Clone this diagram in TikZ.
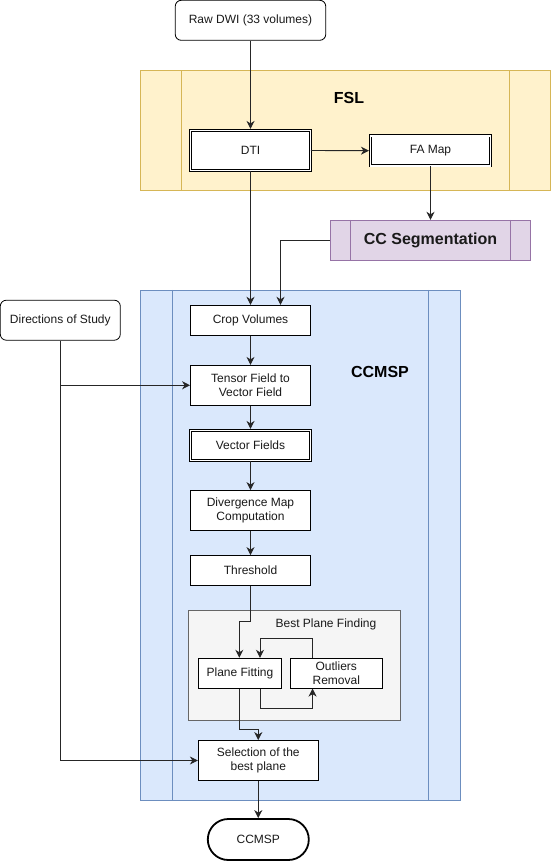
\documentclass[tikz,border=0pt]{standalone}
\usepackage{fontspec}
\setmainfont{Liberation Sans}
\usetikzlibrary{arrows.meta,calc}
\definecolor{fslfill}{HTML}{FFF2CC}
\definecolor{fslline}{HTML}{D6B656}
\definecolor{ccfill}{HTML}{E1D5E7}
\definecolor{ccline}{HTML}{9673A6}
\definecolor{msfill}{HTML}{DAE8FC}
\definecolor{msline}{HTML}{6C8EBF}
\definecolor{bpfill}{HTML}{F5F5F5}
\definecolor{bpline}{HTML}{666666}
\definecolor{txt}{HTML}{1A1A1A}
\begin{document}
\begin{tikzpicture}[x=1pt,y=-1pt,
  every node/.style={text=txt},
  base/.style={draw=black, fill=white, line width=0.8pt, inner sep=2pt, align=center,
    font=\fontsize{12}{14}\selectfont},
  box/.style={base, minimum width=120pt, minimum height=30pt},
  tallbox/.style={base, minimum width=120pt, minimum height=40pt},
  dbl/.style={double=white, double distance=1.8pt, line width=0.7pt},
  rbox/.style={base, rounded corners=6pt},
  lane/.style={draw, line width=0.8pt, minimum width=#1, inner sep=0pt},
  arr/.style={-{Stealth[length=8pt,width=8pt,inset=2.5pt]}, line width=0.9pt, draw=black!85},
  todbl/.style={shorten >=1.2pt},
  ttl/.style={font=\fontsize{16}{18}\selectfont\bfseries, text=black}]
\useasboundingbox (0,0) rectangle (551,862);

% lanes
\node[lane=410pt, minimum height=120pt, draw=fslline, fill=fslfill] (fsl) at (345.4,130.5) {};
\draw[fslline, line width=0.8pt] ($(fsl.north west)+(41.5,0)$) -- ($(fsl.south west)+(41.5,0)$);
\draw[fslline, line width=0.8pt] ($(fsl.north east)+(-41.5,0)$) -- ($(fsl.south east)+(-41.5,0)$);
\node[ttl] (fsllbl) at (349,98) {FSL};

\node[lane=320pt, minimum height=510pt, draw=msline, fill=msfill] (ms) at (300.3,545.3) {};
\draw[msline, line width=0.8pt] ($(ms.north west)+(32,0)$) -- ($(ms.south west)+(32,0)$);
\draw[msline, line width=0.8pt] ($(ms.north east)+(-32,0)$) -- ($(ms.south east)+(-32,0)$);
\node[ttl] (mslbl) at (380,372) {CCMSP};

\node[lane=212.4pt, minimum height=110pt, draw=bpline, fill=bpfill] (bpf) at (294.5,665) {};
\node[font=\fontsize{12}{14}\selectfont] (bpflbl) at (326,624) {Best Plane Finding};

% nodes
\node[rbox, minimum width=150.5pt, minimum height=40pt] (raw) at (250.5,20.3) {Raw DWI (33 volumes)};
\node[tallbox, dbl] (dti) at (250.5,150.5) {DTI};
\node[box, dbl] (fa) at (430.5,150.7) {FA Map};
\node[base, minimum width=200.5pt, minimum height=40pt, draw=ccline, fill=ccfill,
  font=\fontsize{16}{18}\selectfont\bfseries] (cc) at (430.5,240.2) {CC Segmentation};
\draw[ccline, line width=0.8pt] ($(cc.north west)+(20.3,0)$) -- ($(cc.south west)+(20.3,0)$);
\draw[ccline, line width=0.8pt] ($(cc.north east)+(-20.3,0)$) -- ($(cc.south east)+(-20.3,0)$);

\node[rbox, minimum width=120pt, minimum height=40pt] (dirs) at (60.3,320.2) {Directions of Study};
\node[box] (crop) at (250.5,320.2) {Crop Volumes};
\node[tallbox] (tensor) at (250.5,385.3) {Tensor Field to\\Vector Field};
\node[box, dbl] (vf) at (250.5,445.5) {Vector Fields};
\node[tallbox] (div) at (250.5,510.5) {Divergence Map\\Computation};
\node[box] (thr) at (250.5,570.5) {Threshold};
\node[base, minimum width=83.4pt, minimum height=30pt] (pf) at (240,673.2) {Plane Fitting};
\node[base, minimum width=92.7pt, minimum height=30pt] (out) at (336.3,673.2) {Outliers\\Removal};
\node[tallbox] (sel) at (258.3,760.5) {Selection of the\\best plane};
\node[base, minimum width=101pt, minimum height=41pt, rounded corners=20.5pt, line width=1.8pt] (term) at (258.3,839.5) {CCMSP};

% connectors
\draw[arr, todbl] (raw.south) -- (dti.north);
\draw[arr, todbl] (dti.east) -- (fa.west);
\draw[arr] (fa.south) -- (cc.north);
\draw[arr] (cc.west) -| ([xshift=30pt]crop.north);
\draw[arr] (dti.south) -- (crop.north);
\draw[arr] (dirs.south) |- (sel.west);
\draw[arr] (dirs.south |- tensor.west) -- (tensor.west);
\draw[arr] (crop.south) -- (tensor.north);
\draw[arr, todbl] (tensor.south) -- (vf.north);
\draw[arr] (vf.south) -- (div.north);
\draw[arr] (div.south) -- (thr.north);
\draw[arr] (thr.south) -- ++(0,36) -| ([xshift=-0.7pt]pf.north);
\draw[arr] ([xshift=23pt]out.north west) -- ++(0,-19.7) -| ([xshift=20pt]pf.north);
\draw[arr] ([xshift=20pt]pf.south) -- ++(0,20) -| ([xshift=23pt]out.south west);
\draw[arr] ([xshift=-0.7pt]pf.south) -- ++(0,41) -| (sel.north);
\draw[arr, line width=0.9pt] (sel.south) -- (term.north);
\end{tikzpicture}
\end{document}
